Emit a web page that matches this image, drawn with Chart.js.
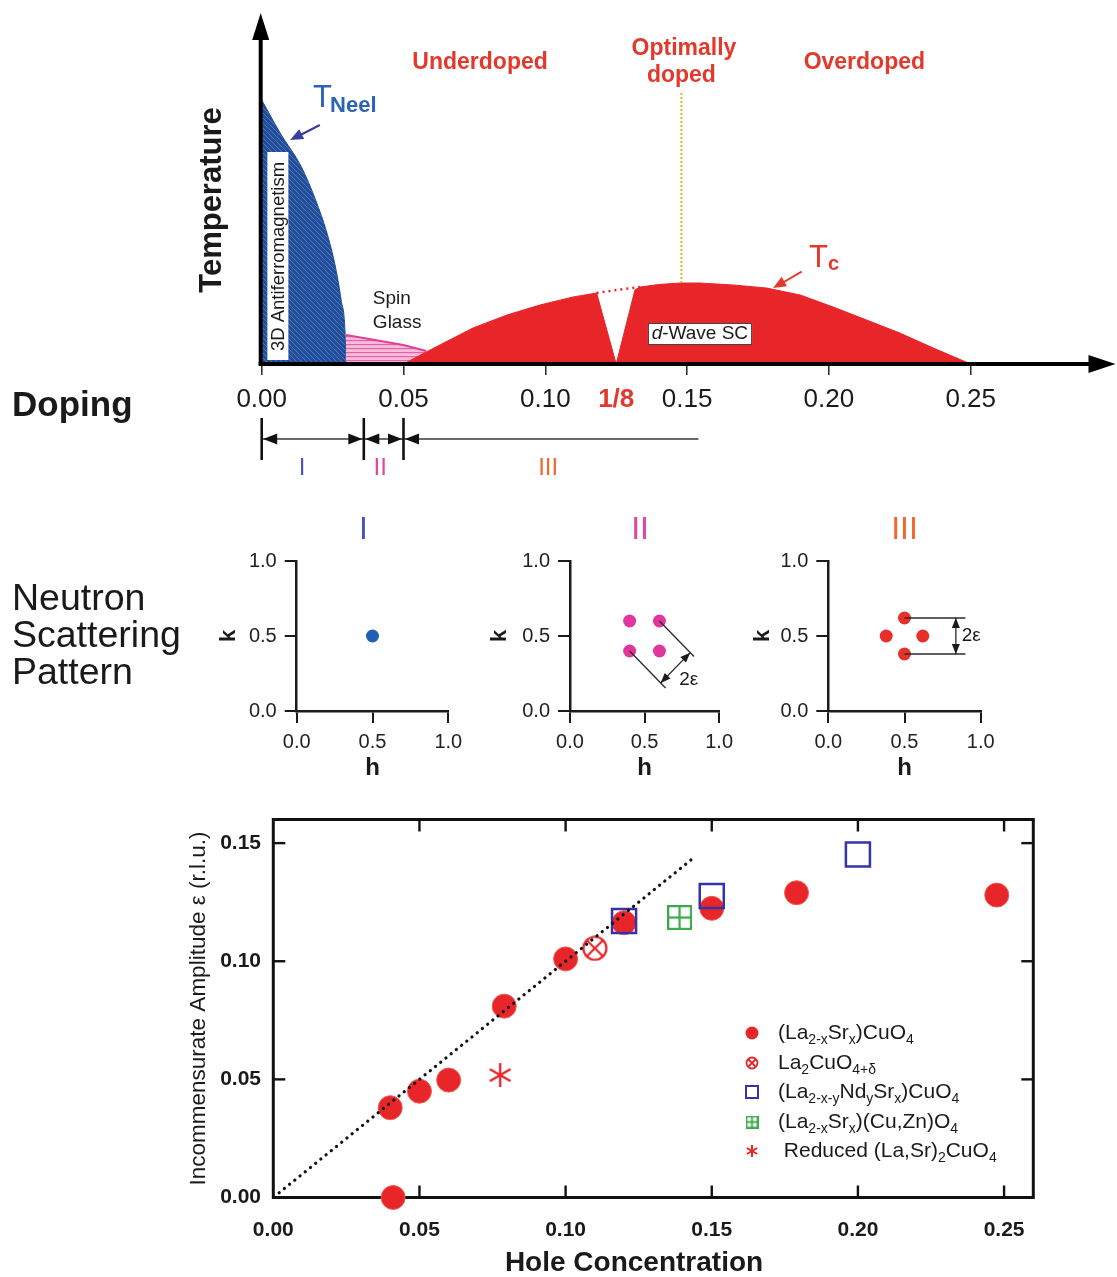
<!DOCTYPE html>
<html>
<head>
<meta charset="utf-8">
<title>LSCO phase diagram and incommensurability</title>
<script src="https://cdn.jsdelivr.net/npm/chart.js@4.4.1/dist/chart.umd.min.js"></script>
<style>
  html, body { margin: 0; padding: 0; background: #fff; }
  body { width: 1117px; height: 1277px; position: relative; overflow: hidden; }
  canvas { position: absolute; }
</style>
</head>
<body>
<canvas id="phase" width="1117" height="480" style="left:0px;top:0px"></canvas>
<canvas id="patI" width="470" height="290" style="left:0px;top:500px"></canvas>
<canvas id="patII" width="270" height="290" style="left:470px;top:500px"></canvas>
<canvas id="patIII" width="377" height="290" style="left:740px;top:500px"></canvas>
<canvas id="stripes" width="1117" height="477" style="left:0px;top:800px"></canvas>
<script>
// ---- phase diagram: doping vs temperature (arbitrary units) ----
const neelX = [0, 0.0065, 0.014, 0.019, 0.023, 0.026, 0.028, 0.0294, 0.0297];
const neelT = [264, 231, 197, 164, 131, 97, 64, 31, 0];
const spinGlassX = [0.0297, 0.04, 0.05, 0.058];
const spinGlassT = [29, 24, 19, 13];
const domeX = [0.05, 0.056, 0.0628, 0.0745, 0.0865, 0.0981, 0.1098, 0.1181, 0.125, 0.1316, 0.1334,
               0.14, 0.1475, 0.1545, 0.1662, 0.178, 0.1899, 0.2015, 0.2133, 0.225, 0.2368, 0.25];
const domeT = [0, 9, 19, 36, 49, 59, 67, 71, 0, 74, 77, 79.5, 81, 81, 79, 76, 69, 57, 44, 31, 16, 0];
const bridgeX = [0.1181, 0.125, 0.1334];
const bridgeT = [71, 74, 77];
const optimalX = [0.148, 0.148];
const optimalT = [81, 272];
const dopingTicks = [0, 0.05, 0.10, 0.125, 0.15, 0.20, 0.25];
const regionBounds = [0, 0.036, 0.05, 0.154];
const regionNames = ['I', 'II', 'III'];
const regionLabelX = [0.0142, 0.0418, 0.101];

// ---- neutron scattering patterns in (h, k) ----
const patternTicks = [0, 0.5, 1.0];
const spotsIh = [0.5];
const spotsIk = [0.5];
const spotsIIh = [0.4, 0.6, 0.4, 0.6];
const spotsIIk = [0.6, 0.6, 0.4, 0.4];
const spotsIIIh = [0.5, 0.5, 0.38, 0.62];
const spotsIIIk = [0.62, 0.38, 0.5, 0.5];

// ---- incommensurate amplitude vs hole concentration ----
const lscoX = [0.040, 0.041, 0.050, 0.060, 0.079, 0.100, 0.120, 0.150, 0.179, 0.2475];
const lscoY = [0.038, 0.000, 0.045, 0.0497, 0.081, 0.101, 0.1163, 0.1224, 0.129, 0.128];
const oxyX = [0.110];
const oxyY = [0.1055];
const lnscoX = [0.120, 0.150, 0.200];
const lnscoY = [0.117, 0.1276, 0.1452];
const znX = [0.139];
const znY = [0.1185];
const reducedX = [0.0776];
const reducedY = [0.0518];
const guideX = [0.002, 0.144];
const guideY = [0.002, 0.144];
const holeTicks = [0, 0.05, 0.10, 0.15, 0.20, 0.25];
const epsTicks = [0, 0.05, 0.10, 0.15];

const FONT = "'Liberation Sans', Arial, Helvetica, sans-serif";
const INK = '#1a1a1a';
const RED = '#e8262a';
const LABEL_RED = '#e3392c';
const BLUE = '#3434a8';
const GREEN = '#3aa84a';
const MAGENTA = '#e0409a';

Chart.defaults.font.family = FONT;
Chart.defaults.color = INK;

const pts = (xs, ys) => xs.map((x, i) => ({ x, y: ys[i] }));

function seg(ctx, x1, y1, x2, y2) {
  ctx.beginPath(); ctx.moveTo(x1, y1); ctx.lineTo(x2, y2); ctx.stroke();
}
// filled arrow head with its tip at (tx, ty), pointing away from (fx, fy)
function head(ctx, fx, fy, tx, ty, len, half) {
  const a = Math.atan2(ty - fy, tx - fx);
  const bx = tx - len * Math.cos(a), by = ty - len * Math.sin(a);
  ctx.beginPath();
  ctx.moveTo(tx, ty);
  ctx.lineTo(bx + half * Math.sin(a), by - half * Math.cos(a));
  ctx.lineTo(bx - half * Math.sin(a), by + half * Math.cos(a));
  ctx.closePath();
  ctx.fill();
}
function label(ctx, str, x, y, font, color, align = 'center', base = 'middle') {
  ctx.font = font; ctx.fillStyle = color; ctx.textAlign = align; ctx.textBaseline = base;
  ctx.fillText(str, x, y);
}
// text runs with subscripts: [[text, isSub], ...]
function rich(ctx, parts, x, y, size, color) {
  ctx.fillStyle = color; ctx.textAlign = 'left'; ctx.textBaseline = 'middle';
  let cx = x;
  parts.forEach(([s, sub]) => {
    ctx.font = (sub ? Math.round(size * 0.66) : size) + 'px ' + FONT;
    ctx.fillText(s, cx, sub ? y + size * 0.32 : y);
    cx += ctx.measureText(s).width;
  });
}

function tile(size, base, draw) {
  const c = document.createElement('canvas');
  c.width = c.height = size;
  const g = c.getContext('2d');
  g.fillStyle = base; g.fillRect(0, 0, size, size);
  draw(g, size);
  return g.createPattern(c, 'repeat');
}
const blueHatch = tile(5, '#224d98', (g, s) => {
  g.strokeStyle = '#4f78bd'; g.lineWidth = 1;
  g.beginPath(); g.moveTo(-1, -1); g.lineTo(s + 1, s + 1); g.stroke();
});
const pinkStripes = tile(4, '#f6bddb', (g, s) => {
  g.fillStyle = '#e463a9'; g.fillRect(0, 0, s, 1.2);
});

function symbol(size, draw) {
  const c = document.createElement('canvas');
  c.width = c.height = size;
  draw(c.getContext('2d'), size);
  return c;
}
function drawCrossedCircle(g, s) {
  const r = s / 2 - 1.5, m = s / 2, d = r * 0.68;
  g.strokeStyle = RED; g.lineWidth = s > 16 ? 2.2 : 1.8;
  g.beginPath(); g.arc(m, m, r, 0, Math.PI * 2); g.stroke();
  g.beginPath(); g.moveTo(m - d, m - d); g.lineTo(m + d, m + d);
  g.moveTo(m + d, m - d); g.lineTo(m - d, m + d); g.stroke();
}
function drawPlusSquare(g, s) {
  const w = s > 16 ? 2.2 : 1.8, m = s / 2;
  g.strokeStyle = GREEN; g.lineWidth = w;
  g.strokeRect(w / 2, w / 2, s - w, s - w);
  seg(g, m, 0, m, s); seg(g, 0, m, s, m);
}
function drawAsterisk(g, s) {
  const m = s / 2, r = s / 2 - 1;
  g.strokeStyle = RED; g.lineWidth = s > 16 ? 2.4 : 2;
  for (let i = 0; i < 3; i++) {
    const a = Math.PI / 2 + i * Math.PI / 3;
    seg(g, m - r * Math.cos(a), m - r * Math.sin(a), m + r * Math.cos(a), m + r * Math.sin(a));
  }
}
const oxyImg = symbol(26, drawCrossedCircle);
const znImg = symbol(25, drawPlusSquare);
const starImg = symbol(26, drawAsterisk);

// ---------------- phase diagram ----------------
const phaseText = [
  { text: 'Underdoped', x: 0.077, t: 301 },
  { text: 'Optimally', x: 0.1489, t: 315 },
  { text: 'doped', x: 0.148, t: 288 },
  { text: 'Overdoped', x: 0.2125, t: 301 }
];

const phaseDecor = {
  id: 'phaseDecor',
  afterDraw(chart) {
    const { ctx, scales: { x, y } } = chart;
    const px = v => x.getPixelForValue(v);
    const py = v => y.getPixelForValue(v);
    const x0 = px(0) - 1, y0 = py(0);
    ctx.save();

    // caption boxes inside the regions
    ctx.fillStyle = '#fff';
    ctx.fillRect(px(0.002), py(212), px(0.0094) - px(0.002), py(4) - py(212));
    ctx.save();
    ctx.translate(px(0.0057), py(107.5));
    ctx.rotate(-Math.PI / 2);
    label(ctx, '3D Antiferromagnetism', 0, 1, '18.5px ' + FONT, INK);
    ctx.restore();

    ctx.fillStyle = '#fff';
    ctx.strokeStyle = '#444'; ctx.lineWidth = 1;
    const bx = px(0.1362), by = py(41), bw = px(0.1729) - bx, bh = py(19) - by;
    ctx.fillRect(bx, by, bw, bh); ctx.strokeRect(bx + 0.5, by + 0.5, bw - 1, bh - 1);
    ctx.font = 'italic 19px ' + FONT;
    const dW = ctx.measureText('d').width;
    ctx.font = '19px ' + FONT;
    const restW = ctx.measureText('-Wave SC').width;
    const sx = px(0.1545) - (dW + restW) / 2, sy = py(30);
    label(ctx, 'd', sx, sy, 'italic 19px ' + FONT, INK, 'left');
    label(ctx, '-Wave SC', sx + dW, sy, '19px ' + FONT, INK, 'left');

    label(ctx, 'Spin', px(0.0392), py(60), '19px ' + FONT, INK, 'left', 'alphabetic');
    label(ctx, 'Glass', px(0.0392), py(36), '19px ' + FONT, INK, 'left', 'alphabetic');

    // axes with arrow heads
    ctx.strokeStyle = '#000'; ctx.fillStyle = '#000'; ctx.lineWidth = 4;
    seg(ctx, x0 - 2, y0, x.right - 20, y0);
    head(ctx, x0, y0, x.right + 3, y0, 27, 9);
    seg(ctx, x0, y0 + 2, x0, y.top + 22);
    head(ctx, x0, y0, x0, y.top - 1, 27, 8.5);

    // doping ranges of the three scattering patterns
    const barTop = 418, barBot = 460, rowY = 439;
    ctx.strokeStyle = '#3a3a3a'; ctx.lineWidth = 1.4;
    seg(ctx, px(regionBounds[0]), rowY, px(regionBounds[3]), rowY);
    ctx.strokeStyle = '#111'; ctx.lineWidth = 2.6;
    ctx.fillStyle = '#111';
    for (let i = 0; i < 3; i++) {
      const bxp = px(regionBounds[i]);
      seg(ctx, bxp, barTop, bxp, barBot);
      head(ctx, bxp + 20, rowY, bxp + 1.5, rowY, 14, 5.5);
      if (i > 0) head(ctx, bxp - 20, rowY, bxp - 1.5, rowY, 14, 5.5);
    }
    const regionColors = ['#4b55b5', '#e0479e', '#ef6a30'];
    regionNames.forEach((n, i) => label(ctx, n, px(regionLabelX[i]), 468, '24px ' + FONT, regionColors[i]));

    // regime names
    phaseText.forEach(p => label(ctx, p.text, px(p.x), py(p.t), 'bold 23px ' + FONT, LABEL_RED));

    // transition temperatures and their pointers
    label(ctx, 'T', px(0.0181), py(257), '31px ' + FONT, '#2d63b6', 'left', 'alphabetic');
    label(ctx, 'Neel', px(0.0241), py(252), 'bold 22px ' + FONT, '#2d63b6', 'left', 'alphabetic');
    ctx.strokeStyle = '#3c3ca0'; ctx.fillStyle = '#3c3ca0'; ctx.lineWidth = 2;
    seg(ctx, px(0.0205), py(239), px(0.013), py(228));
    head(ctx, px(0.0205), py(239), px(0.01), py(224), 13, 5.5);

    label(ctx, 'T', px(0.193), py(97), '31px ' + FONT, LABEL_RED, 'left', 'alphabetic');
    label(ctx, 'c', px(0.1997), py(94), 'bold 20px ' + FONT, LABEL_RED, 'left', 'alphabetic');
    ctx.strokeStyle = LABEL_RED; ctx.fillStyle = LABEL_RED;
    seg(ctx, px(0.1904), py(92.3), px(0.1835), py(81));
    head(ctx, px(0.1904), py(92.3), px(0.1803), py(76), 13, 5.5);

    // outer axis captions
    label(ctx, 'Doping', 12, 406, 'bold 35px ' + FONT, INK, 'left');
    ctx.save();
    ctx.translate(212, 200);
    ctx.rotate(-Math.PI / 2);
    label(ctx, 'Temperature', 0, 0, 'bold 31px ' + FONT, INK);
    ctx.restore();

    ctx.restore();
  }
};

new Chart(document.getElementById('phase'), {
  type: 'line',
  data: {
    datasets: [
      { data: pts(bridgeX, bridgeT), borderColor: RED, borderWidth: 2.5, borderDash: [2, 4],
        pointRadius: 0, fill: false, order: 0 },
      { data: pts(optimalX, optimalT), borderColor: '#d2bc1c', borderWidth: 2, borderDash: [2, 2],
        pointRadius: 0, fill: false, order: 1 },
      { data: pts(domeX, domeT), backgroundColor: RED, borderColor: RED, borderWidth: 1,
        pointRadius: 0, fill: 'origin', tension: 0, order: 2 },
      { data: pts(spinGlassX, spinGlassT), backgroundColor: pinkStripes, borderColor: MAGENTA, borderWidth: 2,
        pointRadius: 0, fill: 'origin', tension: 0, order: 3 },
      { data: pts(neelX, neelT), backgroundColor: blueHatch, borderColor: '#1f4c98', borderWidth: 1,
        pointRadius: 0, fill: 'origin', cubicInterpolationMode: 'monotone', order: 4 }
    ]
  },
  options: {
    responsive: false,
    animation: false,
    events: [],
    layout: { padding: { left: 261.7, right: 4.5, top: 14, bottom: 0 } },
    plugins: { legend: { display: false }, tooltip: { enabled: false } },
    scales: {
      x: {
        type: 'linear', min: 0, max: 0.30,
        afterBuildTicks: s => { s.ticks = dopingTicks.map(v => ({ value: v })); },
        afterFit: s => { s.height = 116; },
        border: { display: false },
        grid: {
          drawOnChartArea: false, drawTicks: true, tickLength: 11, lineWidth: 1.6,
          color: '#333', tickColor: c => (c.tick && c.tick.value === 0.125 ? 'rgba(0,0,0,0)' : '#333')
        },
        ticks: {
          autoSkip: false, maxRotation: 0, padding: 9,
          color: c => (c.tick && c.tick.value === 0.125 ? LABEL_RED : INK),
          font: c => ({ family: FONT, size: 26, weight: c.tick && c.tick.value === 0.125 ? 'bold' : 'normal' }),
          callback: v => (v === 0.125 ? '1/8' : v.toFixed(2))
        }
      },
      y: { type: 'linear', min: 0, max: 350, display: false }
    }
  },
  plugins: [phaseDecor]
});

// ---------------- scattering patterns ----------------
const patternDecor = {
  id: 'patternDecor',
  afterDraw(chart, args, o) {
    const { ctx, scales: { x, y } } = chart;
    const px = v => x.getPixelForValue(v);
    const py = v => y.getPixelForValue(v);
    ctx.save();
    label(ctx, o.numeral, px(o.numeralH), 30.5, '32px ' + FONT, o.numeralColor);
    if (o.caption) {
      o.caption.forEach((t, i) => label(ctx, t, 12, 100 + i * 37, '37.5px ' + FONT, INK, 'left'));
    }
    if (o.guides) {
      ctx.strokeStyle = '#2a2a2a'; ctx.fillStyle = '#1a1a1a'; ctx.lineWidth = 1.3;
      o.guides.forEach(([h1, k1, h2, k2]) => seg(ctx, px(h1), py(k1), px(h2), py(k2)));
      const [h1, k1, h2, k2] = o.span;
      seg(ctx, px(h1), py(k1), px(h2), py(k2));
      head(ctx, px(h2), py(k2), px(h1), py(k1), 10, 4);
      head(ctx, px(h1), py(k1), px(h2), py(k2), 10, 4);
      label(ctx, '2ε', px(o.spanLabel[0]), py(o.spanLabel[1]), '19px ' + FONT, INK, 'left');
    }
    ctx.restore();
  }
};

function patternChart(id, hs, ks, color, axisWidth, kPad, rightPad, decor) {
  const axisColor = '#1a1a1a';
  return new Chart(document.getElementById(id), {
    type: 'scatter',
    data: {
      datasets: [{ data: pts(hs, ks), backgroundColor: color, borderWidth: 0, pointRadius: 6.5, clip: false }]
    },
    options: {
      responsive: false,
      animation: false,
      events: [],
      layout: { padding: { left: 0, right: rightPad, top: 61, bottom: 0 } },
      plugins: { legend: { display: false }, tooltip: { enabled: false }, patternDecor: decor },
      scales: {
        x: {
          type: 'linear', min: 0, max: 1,
          afterBuildTicks: s => { s.ticks = patternTicks.map(v => ({ value: v })); },
          afterFit: s => { s.height = 79; },
          border: { display: true, color: axisColor, width: 2.5 },
          grid: { drawOnChartArea: false, tickLength: 12, lineWidth: 2, color: axisColor },
          ticks: { padding: 7, color: '#222', font: { size: 20 }, callback: v => v.toFixed(1) },
          title: { display: true, text: 'h', color: axisColor, font: { size: 24, weight: 'bold' },
                   padding: { top: 0, bottom: 7.6 } }
        },
        y: {
          type: 'linear', min: 0, max: 1,
          afterBuildTicks: s => { s.ticks = patternTicks.map(v => ({ value: v })); },
          afterFit: s => { s.width = axisWidth; },
          border: { display: true, color: axisColor, width: 2.5 },
          grid: { drawOnChartArea: false, tickLength: 12, lineWidth: 2, color: axisColor },
          ticks: { padding: 8, color: '#222', font: { size: 20 }, callback: v => v.toFixed(1) },
          title: { display: true, text: 'k', color: axisColor, font: { size: 22, weight: 'bold' },
                   padding: { top: kPad, bottom: 0 } }
        }
      }
    },
    plugins: [patternDecor]
  });
}

patternChart('patI', spotsIh, spotsIk, '#1f5fb8', 296.7, 215.8, 21.7, {
  numeral: 'I', numeralH: 0.44, numeralColor: '#4b55b5',
  caption: ['Neutron', 'Scattering', 'Pattern']
});
patternChart('patII', spotsIIh, spotsIIk, '#e2369c', 100, 16.8, 17.3, {
  numeral: 'II', numeralH: 0.47, numeralColor: '#e0479e',
  guides: [[0.6, 0.6, 0.832, 0.363], [0.4, 0.4, 0.641, 0.153]],
  span: [0.608, 0.187, 0.806, 0.389], spanLabel: [0.733, 0.208]
});
patternChart('patIII', spotsIIIh, spotsIIIk, '#e8302a', 88.3, 9.8, 136.3, {
  numeral: 'III', numeralH: 0.5, numeralColor: '#ef6a30',
  guides: [[0.5, 0.62, 0.9, 0.62], [0.5, 0.38, 0.9, 0.38]],
  span: [0.837, 0.62, 0.837, 0.38], spanLabel: [0.875, 0.501]
});

// ---------------- incommensurability vs hole concentration ----------------
const legendEntries = [
  { kind: 'lsco', parts: [['(La', 0], ['2-x', 1], ['Sr', 0], ['x', 1], [')CuO', 0], ['4', 1]] },
  { kind: 'oxy', parts: [['La', 0], ['2', 1], ['CuO', 0], ['4+δ', 1]] },
  { kind: 'lnsco', parts: [['(La', 0], ['2-x-y', 1], ['Nd', 0], ['y', 1], ['Sr', 0], ['x', 1], [')CuO', 0], ['4', 1]] },
  { kind: 'zn', parts: [['(La', 0], ['2-x', 1], ['Sr', 0], ['x', 1], [')(Cu,Zn)O', 0], ['4', 1]] },
  { kind: 'reduced', parts: [[' Reduced (La,Sr)', 0], ['2', 1], ['CuO', 0], ['4', 1]] }
];
const legendSmall = {
  oxy: symbol(14, drawCrossedCircle),
  zn: symbol(13, drawPlusSquare),
  reduced: symbol(14, drawAsterisk)
};

const stripeDecor = {
  id: 'stripeDecor',
  beforeDatasetsDraw(chart) {
    const { ctx, chartArea: a, scales: { x, y } } = chart;
    ctx.save();
    ctx.strokeStyle = '#111'; ctx.lineWidth = 3;
    ctx.strokeRect(a.left, a.top, a.right - a.left, a.bottom - a.top);
    ctx.lineWidth = 2.4;
    holeTicks.filter(v => v > 0).forEach(v => {
      const p = x.getPixelForValue(v);
      seg(ctx, p, a.bottom, p, a.bottom - 12);
      seg(ctx, p, a.top, p, a.top + 12);
    });
    epsTicks.filter(v => v > 0).forEach(v => {
      const p = y.getPixelForValue(v);
      seg(ctx, a.left, p, a.left + 12, p);
      seg(ctx, a.right, p, a.right - 12, p);
    });
    ctx.restore();
  },
  afterDraw(chart) {
    const { ctx } = chart;
    ctx.save();
    label(ctx, 'Hole Concentration', 634, 463, 'bold 28px ' + FONT, INK);
    const symX = 752, textX = 778, rows = [233, 263, 292, 322, 351];
    legendEntries.forEach((e, i) => {
      const yy = rows[i];
      if (e.kind === 'lsco') {
        ctx.fillStyle = RED; ctx.beginPath(); ctx.arc(symX, yy, 6.5, 0, Math.PI * 2); ctx.fill();
      } else if (e.kind === 'lnsco') {
        ctx.strokeStyle = BLUE; ctx.lineWidth = 2; ctx.strokeRect(symX - 6, yy - 6, 12, 12);
      } else {
        const img = legendSmall[e.kind];
        ctx.drawImage(img, symX - img.width / 2, yy - img.height / 2);
      }
      rich(ctx, e.parts, textX, yy, 21, INK);
    });
    ctx.restore();
  }
};

new Chart(document.getElementById('stripes'), {
  type: 'scatter',
  data: {
    datasets: [
      { data: pts(guideX, guideY), showLine: true, borderColor: '#111', borderWidth: 3.2,
        borderDash: [0.1, 6.6], borderCapStyle: 'round', pointRadius: 0, clip: false, order: 0 },
      { data: pts(lnscoX, lnscoY), pointStyle: 'rect', pointRadius: 17, backgroundColor: 'rgba(0,0,0,0)',
        borderColor: BLUE, borderWidth: 2.5, clip: false, order: 1 },
      { data: pts(znX, znY), pointStyle: znImg, clip: false, order: 2 },
      { data: pts(oxyX, oxyY), pointStyle: oxyImg, clip: false, order: 2 },
      { data: pts(reducedX, reducedY), pointStyle: starImg, clip: false, order: 2 },
      { data: pts(lscoX, lscoY), pointRadius: 12, backgroundColor: RED, borderColor: '#ef5a52',
        borderWidth: 1, clip: false, order: 3 }
    ]
  },
  options: {
    responsive: false,
    animation: false,
    events: [],
    layout: { padding: { left: 0, right: 83.7, top: 18.3, bottom: 0 } },
    plugins: { legend: { display: false }, tooltip: { enabled: false } },
    scales: {
      x: {
        type: 'linear', min: 0, max: 0.26,
        afterBuildTicks: s => { s.ticks = holeTicks.map(v => ({ value: v })); },
        afterFit: s => { s.height = 79.5; },
        border: { display: false },
        grid: { display: false },
        ticks: { padding: 12, color: INK, font: { size: 21, weight: 'bold' }, callback: v => v.toFixed(2) }
      },
      y: {
        type: 'linear', min: 0, max: 0.16,
        afterBuildTicks: s => { s.ticks = epsTicks.map(v => ({ value: v })); },
        afterFit: s => { s.width = 273.3; },
        border: { display: false },
        grid: { display: false },
        ticks: { padding: 4.3, color: INK, font: { size: 21, weight: 'bold' }, callback: v => v.toFixed(2) },
        title: { display: true, text: 'Incommensurate Amplitude ε (r.l.u.)', color: INK,
                 font: { size: 22.5 }, padding: { top: 185.5, bottom: 0 } }
      }
    }
  },
  plugins: [stripeDecor]
});
</script>
</body>
</html>
